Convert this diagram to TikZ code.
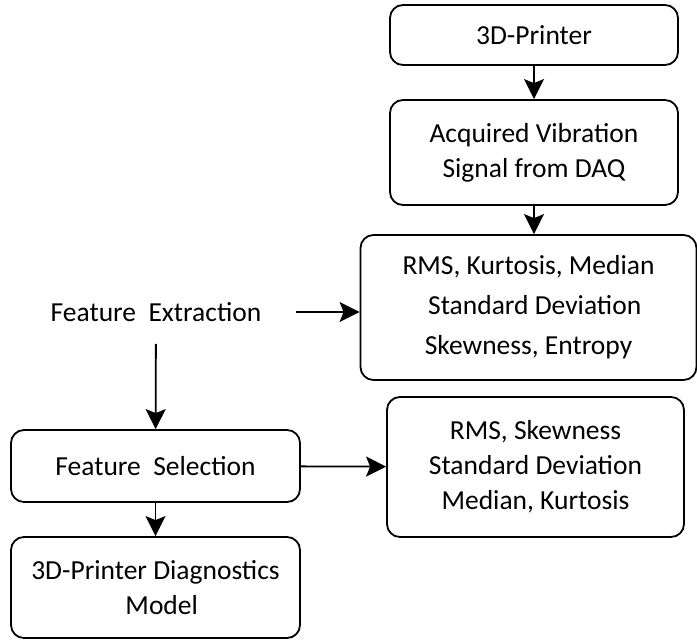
\documentclass[tikz,border=0pt]{standalone}
\usepackage{fontspec}
\setmainfont{Carlito}
\usetikzlibrary{arrows.meta,positioning}

\begin{document}
\begin{tikzpicture}[
  x=1pt,y=-1pt,
  proc/.style={rectangle,rounded corners=13pt,draw,line width=1.8pt,align=center,inner sep=0pt,font=\fontsize{27.5}{35}\selectfont},
  lbl/.style={font=\fontsize{27.5}{35}\selectfont,inner sep=0pt},
  arrow/.style={-{Stealth[length=20pt,width=20pt,inset=4pt]},line width=1.8pt}
]
\useasboundingbox (0,0) rectangle (697,640);
\node[proc,minimum width=288pt,minimum height=60pt] (printer) at (534,35) {3D-Printer};
\node[proc,minimum width=288pt,minimum height=105pt] (daq) at (534,152.5) {Acquired Vibration\\Signal from DAQ};
\node[proc,minimum width=336pt,minimum height=145pt] (feat1) at (528.5,307.5) {RMS, Kurtosis, Median\\[5pt]\ \ Standard Deviation\\[5pt]Skewness, Entropy};
\node[lbl] (fext) at (156,312) {Feature\ \ Extraction};
\node[proc,minimum width=289pt,minimum height=72pt] (fsel) at (155.5,466) {Feature\ \ Selection};
\node[proc,minimum width=297pt,minimum height=140pt] (feat2) at (535.5,467) {RMS, Skewness\\Standard Deviation\\Median, Kurtosis};
\node[proc,minimum width=289pt,minimum height=101pt] (model) at (155.5,587.5) {3D-Printer Diagnostics\\\ \ Model};

\draw[arrow] (printer) -- (daq);
\draw[arrow] (daq) -- (daq |- feat1.north);
\draw[arrow,shorten <=35pt] (fext.east) -- (fext.east -| feat1.west);
\draw[arrow,shorten <=22pt] (fext) -- (fsel);
\draw[arrow] (fsel) -- (feat2);
\draw[arrow] (fsel) -- (model);
\end{tikzpicture}
\end{document}
